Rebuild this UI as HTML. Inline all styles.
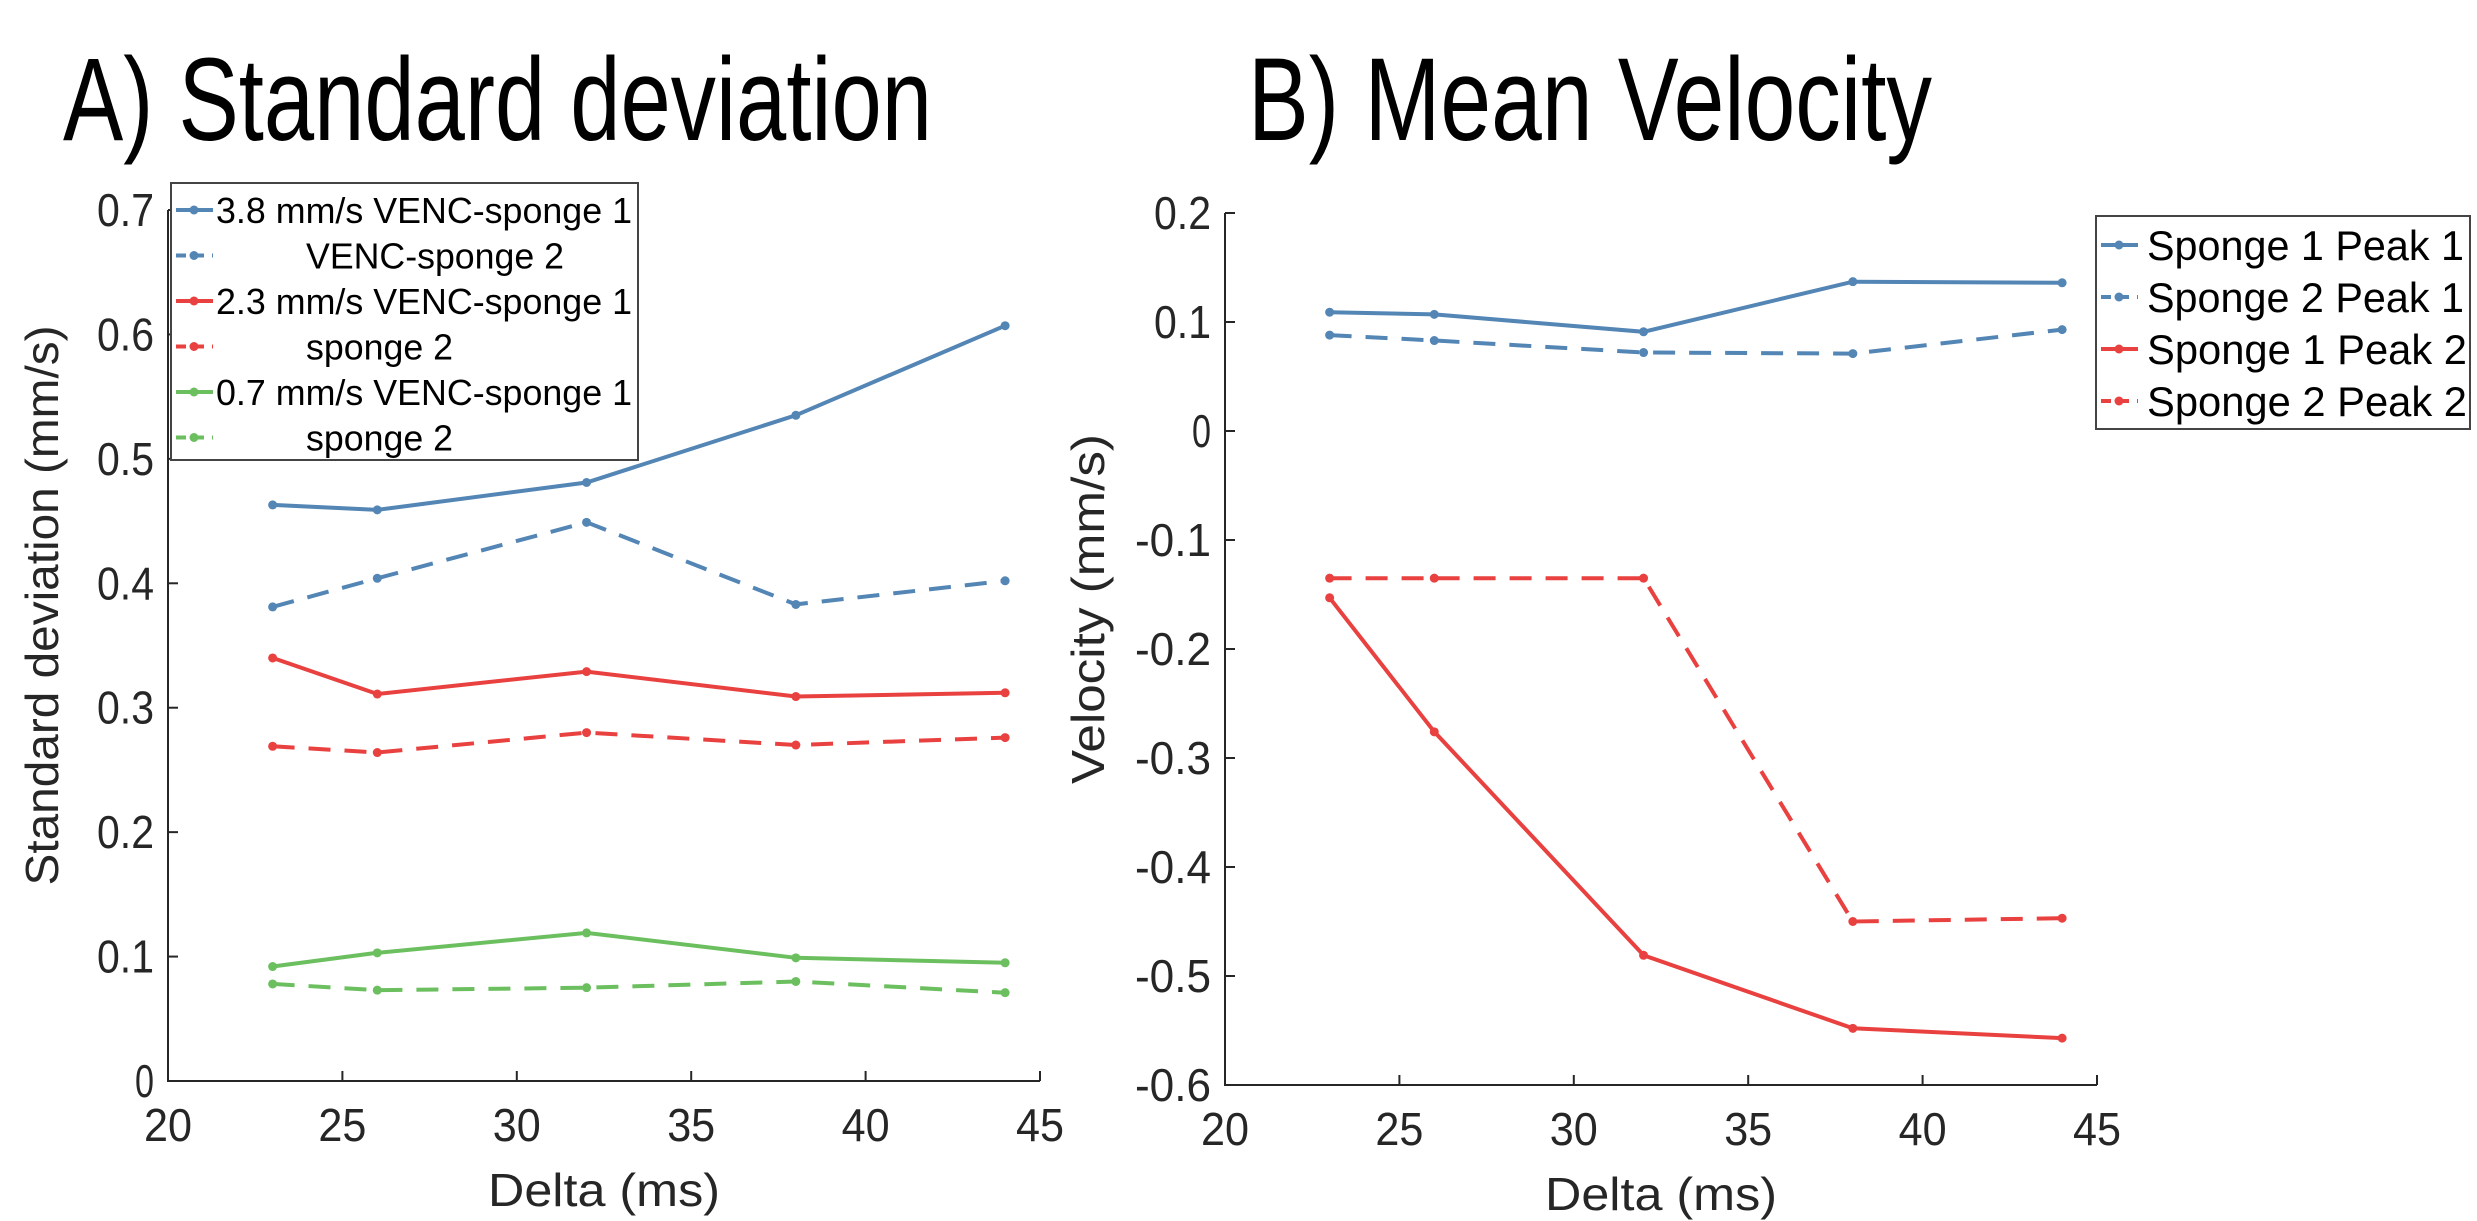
<!DOCTYPE html>
<html><head><meta charset="utf-8"><style>
html,body{margin:0;padding:0;background:#fff;}
svg{display:block;}
text{font-family:"Liberation Sans",sans-serif;fill:#262626;}
</style></head><body>
<svg id="chart" width="2477" height="1221" viewBox="0 0 2477 1221" xmlns="http://www.w3.org/2000/svg">
<text x="63" y="140" font-size="118" textLength="869" lengthAdjust="spacingAndGlyphs" style="fill:#000">A) Standard deviation</text>
<text x="1248" y="140" font-size="118" textLength="684" lengthAdjust="spacingAndGlyphs" style="fill:#000">B) Mean Velocity</text>
<g id="gA"></g>
<g id="gB"></g>
</svg>
<script>
const xVals = [23, 26, 32, 38, 44];
const xTicks = [20, 25, 30, 35, 40, 45];
const aTicks = [0, 0.1, 0.2, 0.3, 0.4, 0.5, 0.6, 0.7];
const aTickLabels = ["0", "0.1", "0.2", "0.3", "0.4", "0.5", "0.6", "0.7"];
const aBlue1 = [0.463, 0.459, 0.481, 0.535, 0.607];
const aBlue2 = [0.381, 0.404, 0.449, 0.383, 0.402];
const aRed1 = [0.340, 0.311, 0.329, 0.309, 0.312];
const aRed2 = [0.269, 0.264, 0.280, 0.270, 0.276];
const aGreen1 = [0.092, 0.103, 0.119, 0.099, 0.095];
const aGreen2 = [0.078, 0.073, 0.075, 0.080, 0.071];
const aLegend = ["3.8 mm/s VENC-sponge 1", "VENC-sponge 2", "2.3 mm/s VENC-sponge 1", "sponge 2", "0.7 mm/s VENC-sponge 1", "sponge 2"];
const bTicks = [-0.6, -0.5, -0.4, -0.3, -0.2, -0.1, 0, 0.1, 0.2];
const bTickLabels = ["-0.6", "-0.5", "-0.4", "-0.3", "-0.2", "-0.1", "0", "0.1", "0.2"];
const bBlue1 = [0.109, 0.107, 0.091, 0.137, 0.136];
const bBlue2 = [0.088, 0.083, 0.072, 0.071, 0.093];
const bRed1 = [-0.153, -0.276, -0.481, -0.548, -0.557];
const bRed2 = [-0.135, -0.135, -0.135, -0.450, -0.447];
const bLegend = ["Sponge 1 Peak 1", "Sponge 2 Peak 1", "Sponge 1 Peak 2", "Sponge 2 Peak 2"];

const NS = "http://www.w3.org/2000/svg";
const BLUE = "#5385b5", RED = "#e8413f", GREEN = "#6cbf5f";
function mk(tag, attrs, parent) {
  const e = document.createElementNS(NS, tag);
  for (const k in attrs) e.setAttribute(k, attrs[k]);
  parent.appendChild(e);
  return e;
}
function drawChart(g, cfg) {
  const sx = v => cfg.x0 + (v - 20) / 25 * (cfg.x1 - cfg.x0);
  const sy = v => cfg.yb + (v - cfg.ymin) / (cfg.ymax - cfg.ymin) * (cfg.yt - cfg.yb);
  const ax = mk("path", {d: `M${cfg.x0},${cfg.yt} V${cfg.yb} H${cfg.x1}`, stroke: "#262626", "stroke-width": 2, fill: "none"}, g);
  
  
  xTicks.forEach(t => {
    const x = sx(t);
    const tk = mk("line", {x1: x, x2: x, y1: cfg.yb, y2: cfg.yb - 10, stroke: "#262626", "stroke-width": 2}, g);
    
    
    const tl = mk("text", {x: x, y: cfg.yb + 60, "font-size": 46, "text-anchor": "middle", textLength: 48, lengthAdjust: "spacingAndGlyphs"}, g);
    tl.textContent = t;
    
    
  });
  cfg.ticks.forEach((t, i) => {
    const y = sy(t);
    const tk = mk("line", {x1: cfg.x0, x2: cfg.x0 + 10, y1: y, y2: y, stroke: "#262626", "stroke-width": 2}, g);
    
    
    const lab = cfg.labels[i];
    const tl = mk("text", {x: cfg.x0 - 14, y: y + 16, "font-size": 46, "text-anchor": "end", textLength: lab.length * 19, lengthAdjust: "spacingAndGlyphs"}, g);
    tl.textContent = lab;
    
    
  });
  const xt = mk("text", {x: (cfg.x0 + cfg.x1) / 2, y: cfg.yb + 125, "font-size": 46, "text-anchor": "middle", textLength: 232, lengthAdjust: "spacingAndGlyphs"}, g);
  xt.textContent = "Delta (ms)";
  
  
  const ym = (cfg.yt + cfg.yb) / 2 - 40;
  const yt = mk("text", {x: cfg.ytx, y: ym, "font-size": 46, "text-anchor": "middle", transform: `rotate(-90 ${cfg.ytx} ${ym})`, textLength: cfg.ytLen, lengthAdjust: "spacingAndGlyphs"}, g);
  yt.textContent = cfg.ytitle;
  
  
  cfg.series.forEach(s => {
    const d = s.v.map((v, i) => (i ? "L" : "M") + sx(xVals[i]).toFixed(1) + "," + sy(v).toFixed(1)).join(" ");
    const p = mk("path", {d: d, stroke: s.c, "stroke-width": 4, fill: "none", "stroke-dasharray": s.dash ? "22,14" : "none"}, g);
    
    
    s.v.forEach((v, i) => {
      const m = mk("circle", {cx: sx(xVals[i]), cy: sy(v), r: 4.5, fill: s.c}, g);
      
      
    });
  });
  const L = cfg.legend;
  const box = mk("rect", {x: L.x, y: L.y, width: L.w, height: L.h, fill: "#fff", stroke: "#444", "stroke-width": 2}, g);
  
  
  cfg.series.forEach((s, i) => {
    const y = L.y + L.r0 + i * L.dy;
    const ln = mk("line", {x1: L.x + 5, x2: L.x + 42, y1: y, y2: y, stroke: s.c, "stroke-width": 4, "stroke-dasharray": s.dash ? "10,8" : "none"}, g);
    
    
    const dt = mk("circle", {cx: L.x + 23, cy: y, r: 4.5, fill: s.c}, g);
    
    
    const lab = L.labels[i];
    const tx = mk("text", {x: L.tx[i], y: y + L.fs * 0.36, "font-size": L.fs, textLength: L.tw[i], lengthAdjust: "spacingAndGlyphs", style: "fill:#000"}, g);
    tx.textContent = lab;
    
    
  });
}
drawChart(document.getElementById("gA"), {
  x0: 168, x1: 1040, yt: 210, yb: 1081, ymin: 0, ymax: 0.7,
  ticks: aTicks, labels: aTickLabels, ytitle: "Standard deviation (mm/s)", ytx: 58, ytLen: 560,
  series: [
    {v: aBlue1, c: BLUE, dash: false, name: "line-3.8-sponge1"},
    {v: aBlue2, c: BLUE, dash: true, name: "line-3.8-sponge2"},
    {v: aRed1, c: RED, dash: false, name: "line-2.3-sponge1"},
    {v: aRed2, c: RED, dash: true, name: "line-2.3-sponge2"},
    {v: aGreen1, c: GREEN, dash: false, name: "line-0.7-sponge1"},
    {v: aGreen2, c: GREEN, dash: true, name: "line-0.7-sponge2"}
  ],
  legend: {x: 171, y: 183, w: 467, h: 277, r0: 27, dy: 45.5, fs: 36, labels: aLegend,
    tx: [216, 306, 216, 306, 216, 306], tw: [416, 258, 416, 147, 416, 147]}
});
drawChart(document.getElementById("gB"), {
  x0: 1225, x1: 2097, yt: 213, yb: 1085, ymin: -0.6, ymax: 0.2,
  ticks: bTicks, labels: bTickLabels, ytitle: "Velocity (mm/s)", ytx: 1104, ytLen: 350,
  series: [
    {v: bBlue1, c: BLUE, dash: false, name: "line-sponge1-peak1"},
    {v: bBlue2, c: BLUE, dash: true, name: "line-sponge2-peak1"},
    {v: bRed1, c: RED, dash: false, name: "line-sponge1-peak2"},
    {v: bRed2, c: RED, dash: true, name: "line-sponge2-peak2"}
  ],
  legend: {x: 2096, y: 216, w: 374, h: 213, r0: 29, dy: 52, fs: 42, labels: bLegend,
    tx: [2147, 2147, 2147, 2147], tw: [317, 317, 320, 320]}
});
</script>
</body></html>
